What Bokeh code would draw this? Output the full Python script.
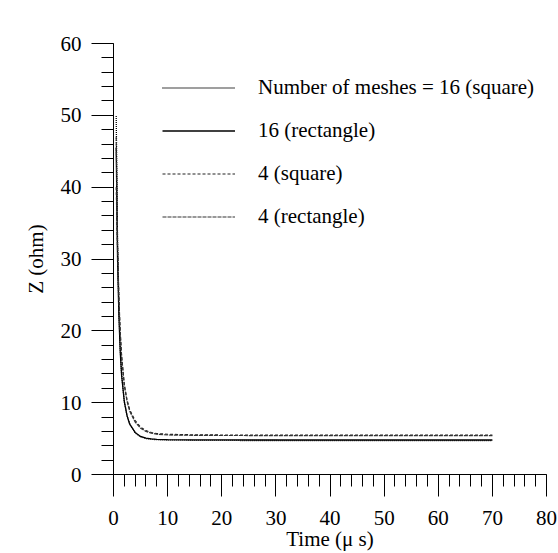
from bokeh.plotting import figure
from bokeh.models import Range1d, Legend, LegendItem, FixedTicker
from bokeh.embed import file_html
from bokeh.resources import INLINE

# ---- data ----
time_us = [0.5, 0.75, 1.0, 1.25, 1.5, 2.0, 2.5, 3.0, 4.0, 5.0, 6.0, 7.0, 8.0, 10.0,
           15.0, 20.0, 30.0, 40.0, 50.0, 60.0, 70.0]
z_16_square = [49.9, 32.0, 23.0, 17.5, 14.0, 10.2, 8.2, 7.0, 5.8, 5.25, 5.0, 4.9, 4.85, 4.8,
               4.76, 4.74, 4.73, 4.72, 4.72, 4.72, 4.72]
z_16_rect = [45.5, 30.0, 22.0, 17.0, 13.8, 10.1, 8.2, 7.0, 5.85, 5.3, 5.05, 4.95, 4.9, 4.85,
             4.82, 4.81, 4.80, 4.80, 4.80, 4.80, 4.80]
z_4_square = [40.0, 31.0, 24.0, 19.5, 16.4, 12.5, 10.4, 9.0, 7.5, 6.6, 6.1, 5.85, 5.7, 5.6,
              5.52, 5.5, 5.5, 5.5, 5.5, 5.5, 5.5]
z_4_rect = [47.0, 32.5, 24.5, 19.8, 16.5, 12.4, 10.2, 8.8, 7.3, 6.45, 6.0, 5.75, 5.6, 5.5,
            5.45, 5.43, 5.42, 5.42, 5.42, 5.42, 5.42]

labels = ["Number of meshes = 16 (square)", "16 (rectangle)", "4 (square)", "4 (rectangle)"]
x_ticks = [0, 10, 20, 30, 40, 50, 60, 70, 80]
y_ticks = [0, 10, 20, 30, 40, 50, 60]

FONT = "Liberation Serif"
FS = "21px"

p = figure(width=558, height=553, output_backend="svg", toolbar_location=None,
           x_range=Range1d(0, 80), y_range=Range1d(0, 60),
           min_border_left=113, min_border_right=12, min_border_top=43, min_border_bottom=78)
p.outline_line_color = None
p.xgrid.visible = False
p.ygrid.visible = False
p.background_fill_color = "white"
p.border_fill_color = "white"

r1 = p.line(time_us, z_16_square, line_color="black", line_width=1.3, line_dash="1 1")
r2 = p.line(time_us, z_16_rect, line_color="black", line_width=1.3)
r3 = p.line(time_us, z_4_square, line_color="#222222", line_width=1.2, line_dash="3 2")
r4 = p.line(time_us, z_4_rect, line_color="#333333", line_width=1.2, line_dash="4 1")

for ax, ticks in ((p.xaxis, x_ticks), (p.yaxis, y_ticks)):
    ax.ticker = FixedTicker(ticks=ticks, minor_ticks=[v for v in range(0, 81, 2)])
    ax.major_tick_out = 22
    ax.major_tick_in = 0
    ax.minor_tick_out = 12
    ax.minor_tick_in = 0
    ax.axis_line_color = "black"
    ax.major_tick_line_color = "black"
    ax.minor_tick_line_color = "black"
    ax.major_label_text_font = FONT
    ax.major_label_text_font_size = FS
    ax.major_label_text_color = "black"
    ax.axis_label_text_font = FONT
    ax.axis_label_text_font_size = FS
    ax.axis_label_text_font_style = "normal"
    ax.axis_label_text_color = "black"

p.xaxis.axis_label = "Time (\u03bc s)"
p.yaxis.axis_label = "Z (ohm)"
p.xaxis.major_label_standoff = 14
p.yaxis.major_label_standoff = 10
p.xaxis.axis_label_standoff = -1
p.yaxis.axis_label_standoff = 10

legend = Legend(items=[LegendItem(label=labels[0], renderers=[r1]),
                       LegendItem(label=labels[1], renderers=[r2]),
                       LegendItem(label=labels[2], renderers=[r3]),
                       LegendItem(label=labels[3], renderers=[r4])],
                location=(49, 236), glyph_width=73, glyph_height=43, label_height=43,
                label_standoff=23, spacing=0, padding=0, margin=0,
                border_line_color=None, background_fill_alpha=0,
                label_text_font=FONT, label_text_font_size=FS, label_text_color="black")
p.add_layout(legend, "center")

open("out.html", "w").write(file_html(p, INLINE))
